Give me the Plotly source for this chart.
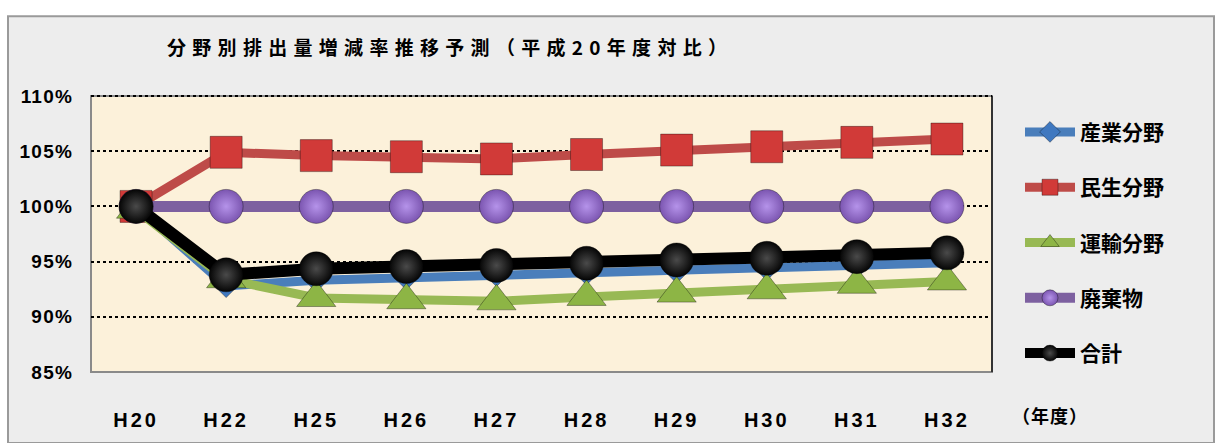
import plotly.graph_objects as go

# 年度カテゴリ
years = ["H20", "H22", "H25", "H26", "H27", "H28", "H29", "H30", "H31", "H32"]

# 平成20年度比（%）
industry = [100.0, 92.8, 93.3, 93.5, 93.8, 93.95, 94.1, 94.35, 94.55, 94.9]
residential = [100.0, 104.9, 104.6, 104.5, 104.3, 104.7, 105.1, 105.4, 105.8, 106.1]
transport = [99.7, 93.4, 91.7, 91.5, 91.4, 91.8, 92.1, 92.4, 92.9, 93.2]
waste = [100.0, 100.0, 100.0, 100.0, 100.0, 100.0, 100.0, 100.0, 100.0, 100.0]
total = [100.0, 93.8, 94.35, 94.55, 94.65, 94.85, 95.15, 95.3, 95.45, 95.8]

y_ticks = [85, 90, 95, 100, 105, 110]
y_tick_text = ["85%", "90%", "95%", "100%", "105%", "110%"]

FONT = "Liberation Sans, Noto Sans CJK JP, sans-serif"
JP_FONT = "Noto Sans CJK JP, sans-serif"

W, H = 1221, 443
L, R, T, B = 91, 992, 96, 376


def px_x(p):
    return (p - L) / (R - L)


def px_y(p):
    return (B - p) / (B - T)


def spaced(text, gap):
    return f'<span style="letter-spacing:{gap}px">{text}</span>'


# name, values, line colour, symbol, size, line width, marker colour, highlight
series = [
    ("産業分野", industry, "#4a7ebb", "diamond", 18, 9, "#3f78c0", None),
    ("民生分野", residential, "#be4b48", "square", 32, 9, "#d13a38", None),
    ("運輸分野", transport, "#98b954", "triangle-up", 34, 9, "#8db545", None),
    ("廃棄物", waste, "#7d60a0", "circle", 34, 11, "#7b55b0", "#b593ea"),
    ("合計", total, "#000000", "circle", 34, 12, "#050505", "#4a4a4a"),
]

fig = go.Figure()
for i, (name, vals, color, sym, size, lw, mcolor, hl) in enumerate(series):
    marker = dict(symbol=sym, size=size, color=mcolor,
                  line=dict(color="rgba(0,0,0,0.35)", width=1))
    if hl:
        marker["gradient"] = dict(type="radial", color=hl)
    fig.add_trace(go.Scatter(
        x=years, y=vals, name=name, mode="lines+markers",
        legendgroup=f"g{i}",
        line=dict(color=color, width=lw),
        marker=marker,
    ))

shapes = [
    # outer chart frame
    dict(type="rect", xref="paper", yref="paper", layer="below",
         x0=px_x(8), x1=px_x(1214), y0=px_y(448), y1=px_y(15),
         fillcolor="#ededed", line=dict(color="#9a9a9a", width=2)),
    # plot area
    dict(type="rect", xref="paper", yref="paper", layer="below",
         x0=0, x1=1, y0=0, y1=1, fillcolor="#fcf1da",
         line=dict(color="#8a8a8a", width=2)),
    dict(type="line", xref="paper", yref="paper", x0=1, x1=1, y0=0, y1=1,
         line=dict(color="#333333", width=2)),
    dict(type="line", xref="paper", yref="paper", x0=0, x1=1, y0=1, y1=1,
         line=dict(color="#000000", width=2, dash="dot")),
]

annotations = [
    dict(text=spaced("分野別排出量増減率推移予測（平成20年度対比）", 6.3),
         xref="paper", yref="paper",
         x=px_x(165), y=px_y(46), xanchor="left", yanchor="middle", showarrow=False,
         font=dict(family=JP_FONT, size=19, color="#000000", weight="bold")),
    dict(text=spaced("（年度）", 1), xref="paper", yref="paper",
         x=px_x(1010), y=px_y(420), xanchor="left", yanchor="middle", showarrow=False,
         font=dict(family=JP_FONT, size=18, color="#000000", weight="bold")),
]

fig.update_layout(
    width=W, height=H,
    margin=dict(l=L, r=W - R, t=T, b=H - B, pad=0),
    paper_bgcolor="#ffffff",
    plot_bgcolor="rgba(0,0,0,0)",
    shapes=shapes,
    annotations=annotations,
    showlegend=True,
    legend=dict(x=px_x(1020), y=px_y(112), xanchor="left", yanchor="top",
                bgcolor="rgba(0,0,0,0)", tracegroupgap=25, traceorder="grouped",
                itemsizing="trace", itemwidth=50,
                font=dict(family=JP_FONT, size=21, color="#000000", weight="bold")),
    xaxis=dict(type="category", range=[-0.5, 9.5], showgrid=False, showline=False,
               zeroline=False, ticks="", ticklabelstandoff=34,
               tickvals=years, ticktext=[spaced(y, 3) for y in years],
               tickfont=dict(family=FONT, size=20, color="#000000", weight="bold")),
    yaxis=dict(range=[85, 110], tickvals=y_ticks,
               ticktext=[spaced(t, 1.2) for t in y_tick_text],
               showgrid=True, gridcolor="#000000", griddash="dot", gridwidth=1.5,
               zeroline=False, showline=False, ticks="", ticklabelstandoff=17,
               tickfont=dict(family=FONT, size=19, color="#000000", weight="bold")),
)

fig.write_html("out.html")
